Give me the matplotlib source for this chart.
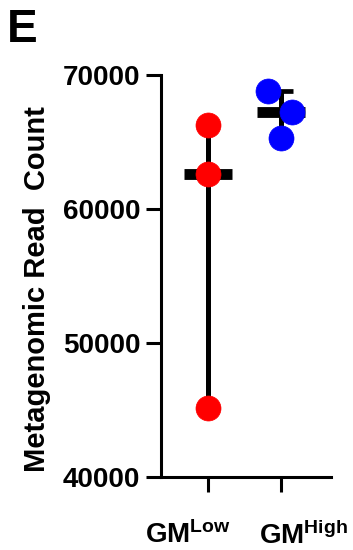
import matplotlib
matplotlib.use("Agg")
import matplotlib.pyplot as plt
import matplotlib.transforms as mtransforms
import numpy as np

plt.rcParams['font.family'] = ['Liberation Sans', 'DejaVu Sans']
plt.rcParams['font.weight'] = 'bold'
plt.rcParams['mathtext.fontset'] = 'custom'
plt.rcParams['mathtext.rm'] = 'Liberation Sans:bold'
plt.rcParams['mathtext.bf'] = 'Liberation Sans:bold'
plt.rcParams['mathtext.it'] = 'Liberation Sans:bold'

categories = [r'$\mathrm{GM}^{\mathrm{Low}}$', r'$\mathrm{GM}^{\mathrm{High}}$']
low_values = [66300, 62600, 45150]
high_values = [68800, 67250, 65300]
low_jitter = [0.0, 0.0, 0.0]
high_jitter = [-0.18, 0.15, 0.0]
colors = ['#ff0000', '#0000ff']
yticks = [40000, 50000, 60000, 70000]

fig = plt.figure(figsize=(3.53, 5.5), dpi=100)
ax = fig.add_axes([0.456, 0.1327, 0.482, 0.7309])

groups = [low_values, high_values]
jitters = [low_jitter, high_jitter]
for i, (vals, jit) in enumerate(zip(groups, jitters)):
    v = np.array(vals)
    med = np.median(v)
    ax.errorbar([i], [med], yerr=[[med - v.min()], [v.max() - med]],
                fmt='none', ecolor='black', elinewidth=3.6, capsize=8.5,
                capthick=3.4, zorder=2)
    ax.plot([i - 0.33, i + 0.33], [med, med], color='black', lw=7.8,
            solid_capstyle='butt', zorder=2)
    ax.scatter(np.array(jit) + i, v, s=18**2, color=colors[i], zorder=3,
               linewidths=0.5, edgecolors=colors[i])

ax.set_xlim(-0.644, 1.685)
ax.set_ylim(40000, 70000)
ax.set_yticks(yticks)
ax.set_yticklabels([str(t) for t in yticks], fontsize=20, fontweight='bold')
ax.set_xticks([0, 1])
ax.set_xticklabels(categories, fontsize=20)
ax.tick_params(axis='y', length=11, width=2.2, pad=4)
ax.tick_params(axis='x', length=11, width=2.2, pad=21)
offsets = [-20, 22]
for lbl, dx in zip(ax.get_xticklabels(), offsets):
    lbl.set_transform(lbl.get_transform() +
                      mtransforms.ScaledTranslation(dx / 100, 0, fig.dpi_scale_trans))
for s in ['top', 'right']:
    ax.spines[s].set_visible(False)
for s in ['left', 'bottom']:
    ax.spines[s].set_linewidth(2.2)
ax.set_ylabel('Metagenomic Read  Count', fontsize=21, fontweight='bold')
ax.yaxis.set_label_coords(-0.645, 0.468)

fig.text(0.02, 0.985, 'E', fontsize=33, fontweight='bold', va='top', ha='left')

fig.savefig('out.png', dpi=100)
